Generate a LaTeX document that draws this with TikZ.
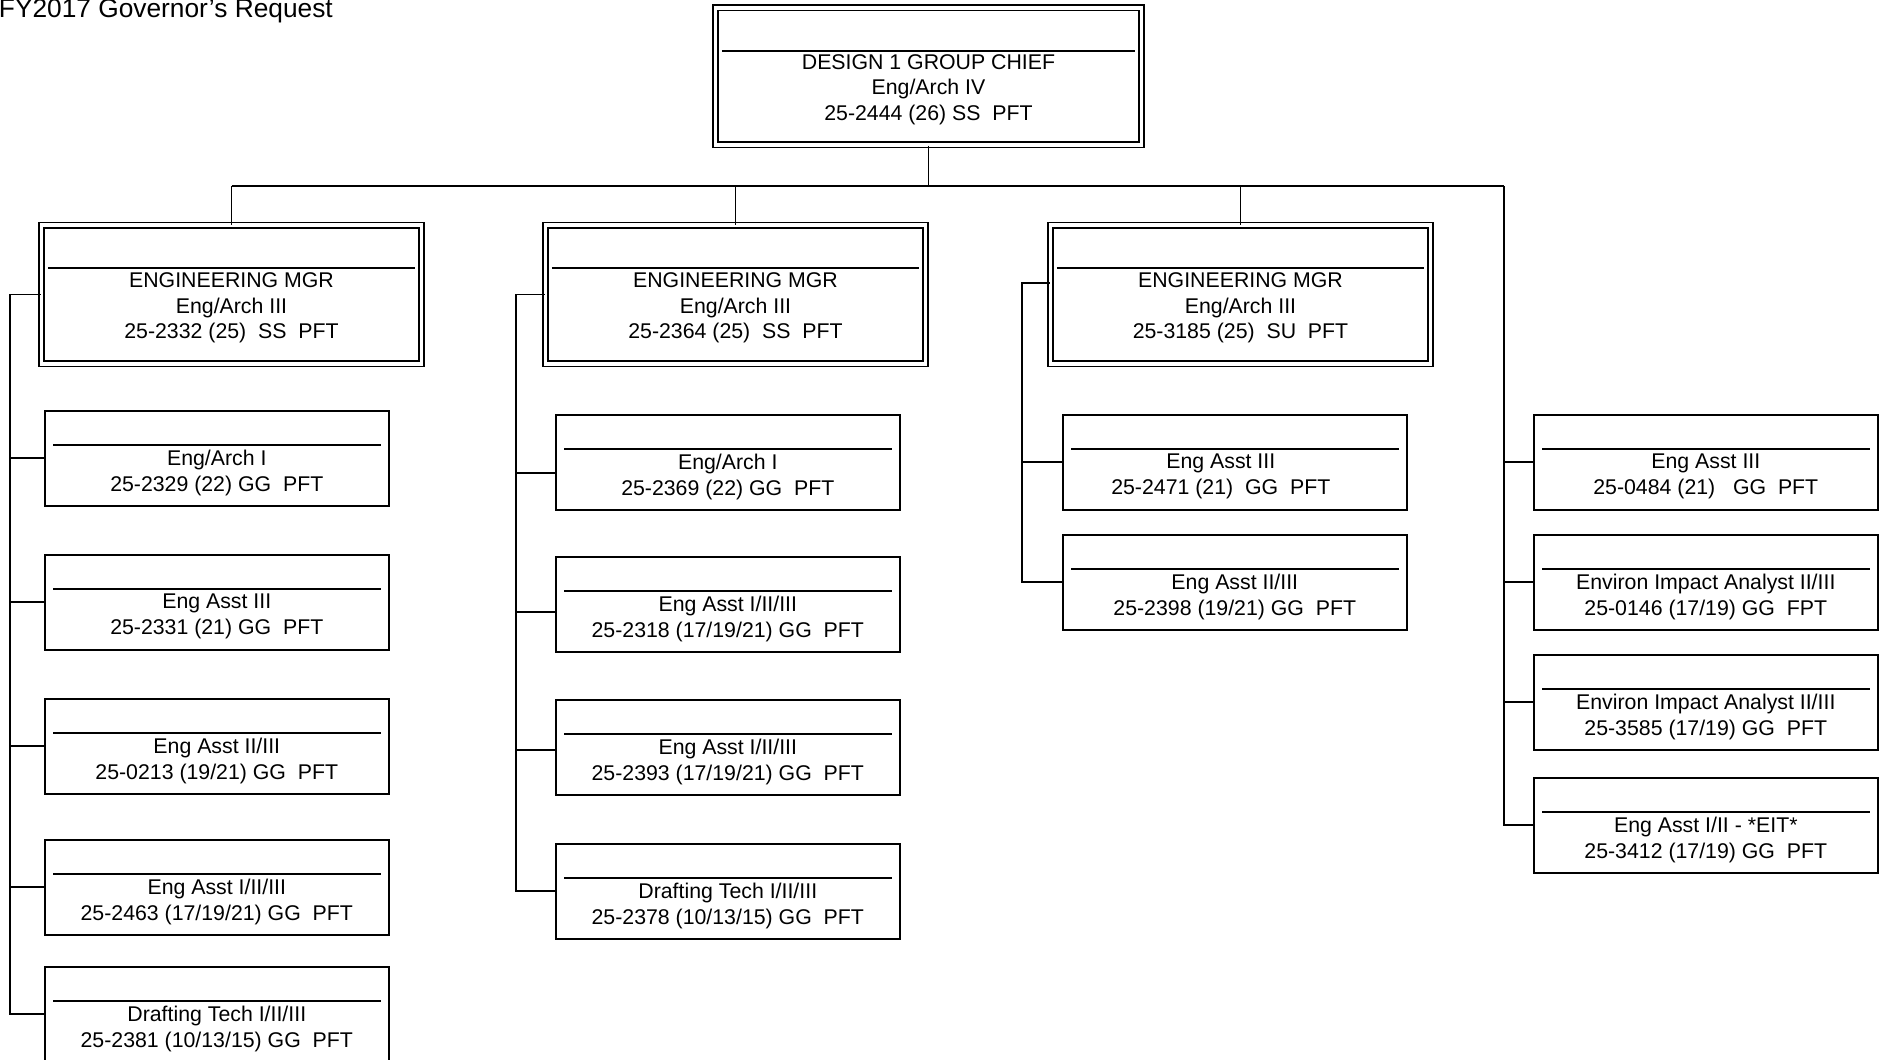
\documentclass[tikz,border=0pt]{standalone}
\usepackage{fontspec}
\setmainfont{Liberation Sans}
\usetikzlibrary{calc}

\tikzset{
  conn/.style={line width=1.8pt},
  rule/.style={line width=1.6pt},
  staffbox/.style={draw, line width=1.6pt, minimum width=344pt, minimum height=95pt, inner sep=0pt, anchor=north west},
  mgrbox/.style={draw, line width=1.5pt, double, double distance=3.6pt, minimum width=380pt, minimum height=138.5pt, inner sep=0pt, anchor=north},
  topbox/.style={draw, line width=1.5pt, double, double distance=3.6pt, minimum width=426pt, minimum height=137pt, inner sep=0pt, anchor=north},
  txt/.style={font=\fontsize{21.3}{25.6}\selectfont, align=center, inner sep=0pt, anchor=north},
  titletxt/.style={font=\fontsize{26.3}{30}\selectfont, inner sep=0pt, anchor=base east}
}

\newcommand\staffnode[6]{%
  \node[staffbox] (#1) at (#2,#3) {};
  \draw[rule] ($(#1.north west)+(9,35)$) -- ($(#1.north east)+(-9,35)$);
  \node[txt] (#1t) at ($(#1.north)+(#4,40)$) {#5\\#6};
}
\newcommand\mgrnode[5]{%
  \node[mgrbox] (#1) at (#2,224.5) {};
  \draw[rule] ($(#1.north west)+(7,43.5)$) -- ($(#1.north east)+(-7,43.5)$);
  \node[txt] (#1t) at ($(#1.north)+(0,48)$) {#3\\#4\\#5};
}

\begin{document}
\begin{tikzpicture}[x=1pt,y=-1pt]
\useasboundingbox (0,0) rectangle (1880,1060);

% title
\node[titletxt] (title) at (333,17) {FY2017 Governor’s Request};

% top box
\node[topbox] (top) at (928.5,7) {};
\draw[rule] ($(top.north west)+(7,44)$) -- ($(top.north east)+(-7,44)$);
\node[txt] (topt) at ($(top.north)+(0,47)$) {DESIGN 1 GROUP CHIEF\\Eng/Arch IV\\25-2444 (26) SS~~PFT};

% managers
\mgrnode{m1}{231.5}{ENGINEERING MGR}{Eng/Arch III}{25-2332 (25)~~SS~~PFT}
\mgrnode{m2}{735.5}{ENGINEERING MGR}{Eng/Arch III}{25-2364 (25)~~SS~~PFT}
\mgrnode{m3}{1240.5}{ENGINEERING MGR}{Eng/Arch III}{25-3185 (25)~~SU~~PFT}

% column 1
\staffnode{b11}{44}{410}{0}{Eng/Arch I}{25-2329 (22) GG~~PFT}
\staffnode{b12}{44}{554}{0}{Eng Asst III}{25-2331 (21) GG~~PFT}
\staffnode{b13}{44}{698}{0}{Eng Asst II/III}{25-0213 (19/21) GG~~PFT}
\staffnode{b14}{44}{839}{0}{Eng Asst I/II/III}{25-2463 (17/19/21) GG~~PFT}
\staffnode{b15}{44}{966}{0}{Drafting Tech I/II/III}{25-2381 (10/13/15) GG~~PFT}

% column 2
\staffnode{b21}{555}{414}{0}{Eng/Arch I}{25-2369 (22) GG~~PFT}
\staffnode{b22}{555}{556}{0}{Eng Asst I/II/III}{25-2318 (17/19/21) GG~~PFT}
\staffnode{b23}{555}{699}{0}{Eng Asst I/II/III}{25-2393 (17/19/21) GG~~PFT}
\staffnode{b24}{555}{843}{0}{Drafting Tech I/II/III}{25-2378 (10/13/15) GG~~PFT}

% column 3
\staffnode{b31}{1062}{414}{-14}{Eng Asst III}{25-2471 (21)~~GG~~PFT}
\staffnode{b32}{1062}{534}{0}{Eng Asst II/III}{25-2398 (19/21) GG~~PFT}

% column 4
\staffnode{b41}{1533}{414}{0}{Eng Asst III}{25-0484 (21)~~~GG~~PFT}
\staffnode{b42}{1533}{534}{0}{Environ Impact Analyst II/III}{25-0146 (17/19) GG~~FPT}
\staffnode{b43}{1533}{654}{0}{Environ Impact Analyst II/III}{25-3585 (17/19) GG~~PFT}
\staffnode{b44}{1533}{777}{0}{Eng Asst I/II - *EIT*}{25-3412 (17/19) GG~~PFT}

% connectors: top to managers
\coordinate (busL) at (231.5,186);
\coordinate (busR) at (1504,186);
\draw[conn] (top.south) -- (top.south |- busL);
\draw[conn] (busL) -- (busR);
\draw[conn] (m1.north |- busL) -- (m1.north);
\draw[conn] (m2.north |- busL) -- (m2.north);
\draw[conn] (m3.north |- busL) -- (m3.north);

% column 1 spine
\coordinate (s1) at (10,0);
\draw[conn] (m1.west) -| (s1 |- b15.west) -- (b15.west);
\draw[conn] (s1 |- b11.west) -- (b11.west);
\draw[conn] (s1 |- b12.west) -- (b12.west);
\draw[conn] (s1 |- b13.west) -- (b13.west);
\draw[conn] (s1 |- b14.west) -- (b14.west);

% column 2 spine
\coordinate (s2) at (516,0);
\coordinate (t21) at ([yshift=-11pt]b21.west);
\coordinate (t22) at ([yshift=-8pt]b22.west);
\coordinate (t23) at ([yshift=-3pt]b23.west);
\draw[conn] (m2.west) -| (s2 |- b24.west) -- (b24.west);
\draw[conn] (s2 |- t21) -- (t21);
\draw[conn] (s2 |- t22) -- (t22);
\draw[conn] (s2 |- t23) -- (t23);

% column 3 spine
\coordinate (s3) at (1022,0);
\coordinate (t3) at ([yshift=11.7pt]m3.west);
\draw[conn] (t3) -| (s3 |- b32.west) -- (b32.west);
\draw[conn] (s3 |- b31.west) -- (b31.west);

% column 4 spine
\draw[conn] (busR) |- (b44.west);
\draw[conn] (busR |- b41.west) -- (b41.west);
\draw[conn] (busR |- b42.west) -- (b42.west);
\draw[conn] (busR |- b43.west) -- (b43.west);
\end{tikzpicture}
\end{document}
